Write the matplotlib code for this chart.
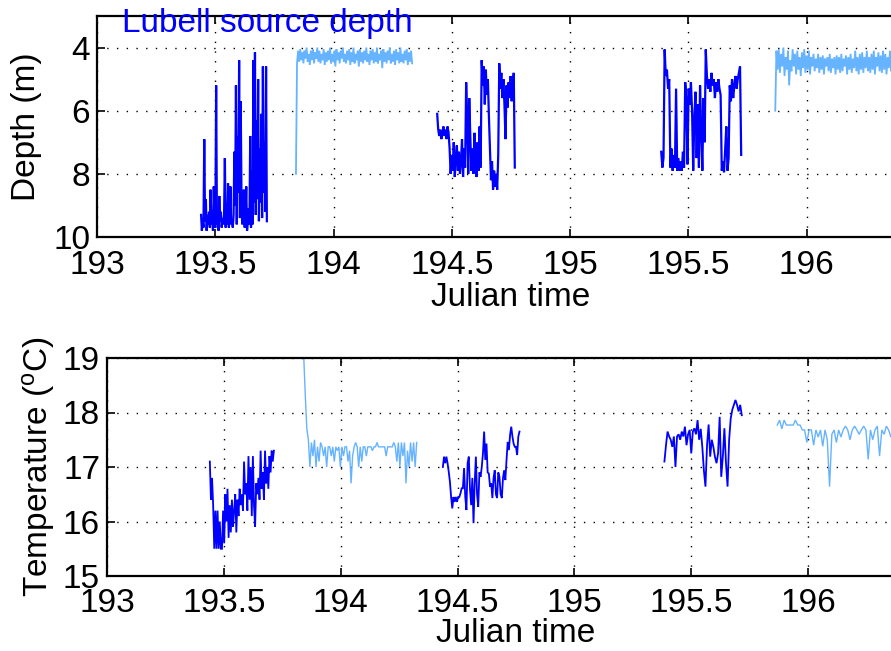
import numpy as np
import matplotlib
matplotlib.use("Agg")
import matplotlib.pyplot as plt
from matplotlib.ticker import FormatStrFormatter

plt.rcParams['font.family'] = ['Liberation Sans', 'DejaVu Sans']
plt.rcParams['mathtext.fontset'] = 'custom'
plt.rcParams['mathtext.rm'] = 'Liberation Sans'
plt.rcParams['mathtext.it'] = 'Liberation Sans:italic'

DARK = '#0000ff'
LIGHT = '#66b3ff'

# ---------------- depth data (m) ----------------
depth1_span = (193.44, 193.718)
depth1 = [9.3, 9.8, 9.4, 9.7, 6.9, 9.5, 8.8, 9.8, 9.3, 9.6, 9.2, 9.7, 8.5, 9.6, 9.4, 9.8, 8.4, 9.5, 9.7, 5.2,
          9.6, 9.1, 9.8, 8.7, 9.5, 9.2, 9.7, 9.4, 9.6, 9.3, 7.5, 9.7, 9.2, 9.6, 8.3, 9.7, 9.4, 8.4, 9.6, 9.5,
          9.7, 9.3, 7.3, 9.0, 5.2, 9.6, 6.8, 8.6, 4.4, 9.4, 5.7, 8.8, 9.6, 9.2, 8.5, 9.7, 9.3, 8.4, 9.8, 9.5,
          9.1, 9.6, 6.8, 9.7, 7.9, 9.6, 4.4, 8.9, 4.15, 9.3, 6.3, 8.8, 5.0, 9.5, 7.2, 8.9, 6.1, 9.4, 4.6, 8.6,
          7.0, 9.2, 4.6, 9.5]

depth2_span = (193.841, 194.332)
depth2 = [8.0, 4.5, 4.1, 4.45, 4.05, 4.4, 4.15, 4.5, 4.1, 4.35, 4.0, 4.45, 4.2, 4.55, 4.1, 4.4, 4.05, 4.5, 4.15, 4.35,
          4.0, 4.45, 4.1, 4.5, 4.2, 4.4, 4.05, 4.55, 4.15, 4.45, 4.1, 4.4, 4.0, 4.5, 4.2, 4.45, 4.1, 4.6, 4.05, 4.4,
          4.15, 4.5, 4.1, 4.35, 4.0, 4.45, 4.2, 4.5, 4.1, 4.4, 4.05, 4.55, 4.15, 4.45, 4.0, 4.5, 4.2, 4.4, 4.1, 4.6,
          4.05, 4.45, 4.15, 4.5, 4.1, 4.4, 4.0, 4.45, 4.2, 4.55, 4.1, 4.4, 4.05, 4.5, 4.15, 4.45, 4.0, 4.5, 4.2, 4.4,
          4.1, 4.65, 4.05, 4.45, 4.15, 4.5, 4.1, 4.4, 4.0, 4.5, 4.2, 4.45, 4.1, 4.55, 4.05, 4.4, 4.15, 4.5, 4.0, 4.45,
          4.2, 4.5, 4.1, 4.4, 4.05, 4.55, 4.15, 4.45, 4.1, 4.5]

depth3_span = (194.438, 194.766)
depth3 = [6.1, 6.6, 6.8, 6.6, 6.9, 6.7, 6.5, 6.8, 6.6, 6.9, 6.5, 6.7,
          7.2, 8.0, 7.4, 7.9, 7.0, 8.1, 7.5, 7.1, 7.9, 7.3, 8.0, 7.6, 6.9, 8.1, 7.2, 7.8,
          5.1, 6.2, 8.0, 5.6, 6.8,
          7.9, 7.2, 8.0, 6.7, 7.6, 8.1, 7.0, 7.9, 6.5, 7.8,
          4.4, 5.2, 4.6, 5.8, 4.7, 5.5, 5.0, 6.2,
          7.2, 8.2, 7.6, 8.5, 7.9, 8.4, 8.0, 8.5, 7.4,
          4.5, 5.3, 4.8, 5.6, 5.0, 5.8, 6.9, 5.2, 5.9, 5.1, 5.6, 4.9, 5.7, 5.2, 4.8, 7.8]

depth4_span = (195.385, 195.723)
depth4 = [7.3, 7.8, 7.5, 4.06, 4.9, 4.7, 5.3, 5.0, 7.8, 7.2, 7.9, 7.4, 7.8, 5.3,
          7.9, 7.5, 7.9, 7.6, 7.9, 7.3, 7.8, 5.1, 5.6, 7.7, 5.3, 5.8, 5.1, 6.0,
          7.9, 6.2, 5.4, 7.5, 5.8, 7.8, 5.2, 6.6, 7.9, 5.6, 7.0, 4.06,
          4.9, 5.3, 5.0, 5.4, 4.8, 5.2, 5.0, 5.6, 5.1, 5.4, 5.0, 5.3, 5.5,
          7.9, 7.6, 7.95, 7.2, 6.5, 7.9, 7.5, 5.2,
          5.7, 5.0, 5.6, 5.2, 4.9, 5.3, 5.0, 4.8, 4.6, 7.4]

depth5_span = (195.867, 196.45)
depth5 = [6.0, 4.1, 4.7, 4.05, 4.8, 4.2, 4.6, 4.0, 4.9, 4.3, 4.7, 4.1, 5.2, 4.4, 4.75, 4.05, 4.6, 4.2, 4.85, 4.1,
          4.7, 4.3, 4.9, 4.15, 4.65, 4.05, 4.8, 4.25, 4.7, 4.1, 4.85, 4.3, 4.6, 4.2, 4.75, 4.35, 4.65, 4.2, 4.8, 4.3,
          4.7, 4.25, 4.85, 4.35, 4.6, 4.3, 4.75, 4.2, 4.8, 4.35, 4.65, 4.3, 4.85, 4.25, 4.7, 4.3, 4.8, 4.2, 4.75, 4.35,
          4.6, 4.25, 4.85, 4.3, 4.7, 4.2, 4.8, 4.35, 4.65, 4.1, 4.75, 4.3, 4.85, 4.2, 4.7, 4.15, 4.8, 4.3, 4.65, 4.1,
          4.75, 4.3, 4.8, 4.2, 4.7, 4.1, 4.85, 4.3, 4.6, 4.15, 4.75, 4.25, 4.8, 4.1, 4.7, 4.2, 4.85, 4.3, 4.65, 4.1,
          4.75, 4.2, 4.8, 4.1, 4.7, 4.25, 4.85, 4.15, 4.65, 4.1, 4.75, 4.3, 4.8, 4.1, 4.7, 4.2, 4.75, 4.15, 4.6, 4.1]

# ---------------- temperature data (deg C) ----------------
temp1_span = (193.44, 193.714)
temp1 = [17.1, 16.4, 16.8, 16.3, 15.5, 16.2, 15.5, 16.2, 15.5, 16.0, 15.5, 15.5, 16.2, 15.6, 16.5, 16.0, 16.6, 15.7,
         16.3, 15.8, 16.4, 15.9, 16.2, 16.5, 15.8, 16.4, 16.1, 16.6, 16.3, 16.5, 16.2, 17.1, 16.5, 16.7, 16.2, 17.2,
         16.4, 17.0, 16.1, 17.2, 16.3, 15.9, 16.7, 16.5, 16.8, 16.4, 17.3, 16.6, 16.9, 16.4, 17.3, 16.7, 17.0, 16.6,
         17.2, 16.9, 17.3, 17.1, 17.3]

temp2_span = (193.842, 194.325)
temp2 = [19.0, 18.3, 17.7, 17.5, 17.0, 17.45, 17.2, 17.5, 17.0, 17.37, 17.1, 17.45, 17.37, 17.2, 17.37, 17.0,
         17.37, 17.37, 17.2, 17.37, 17.1, 17.37, 17.3, 17.37, 17.0, 17.37, 17.2, 17.37, 17.37, 17.1, 17.3, 16.7,
         17.2, 17.37, 17.45, 17.37, 17.0, 17.37, 17.1, 17.37, 17.37, 17.2, 17.37, 17.37, 17.37, 17.3, 17.37,
         17.37, 17.45, 17.37, 17.37, 17.37, 17.37, 17.37, 17.2, 17.37, 17.37, 17.37, 17.37, 17.45, 17.37, 17.1,
         17.45, 17.0, 17.45, 17.2, 17.45, 16.7, 17.3, 17.0, 17.45, 17.1, 17.45, 17.0, 17.45]

temp3_span = (194.437, 194.765)
temp3 = [17.0, 17.19, 17.07, 17.19, 17.07, 16.91, 16.73, 16.45, 16.24, 16.45, 16.36, 16.45, 16.36, 16.45, 16.45,
         16.52, 16.61, 16.61, 16.98, 16.45, 16.21, 17.07, 17.19, 16.6, 16.30, 16.8, 15.97, 16.7, 17.19, 16.5,
         16.27, 16.9, 16.82, 17.0, 17.25, 17.65, 17.13, 17.43, 16.9, 16.88, 16.64, 16.7, 16.43, 16.8, 16.94, 16.5,
         16.43, 16.9, 16.82, 16.5, 16.43, 16.8, 16.94, 16.76, 17.13, 17.46, 17.31, 17.59, 17.74, 17.56, 17.43,
         17.37, 17.37, 17.22, 17.56, 17.65]

temp4_span = (195.385, 195.716)
temp4 = [17.10, 17.4, 17.65, 17.56, 17.5, 17.37, 17.56, 17.0, 17.56, 17.6, 17.5, 17.65, 17.56, 17.74, 17.4, 17.6,
         17.68, 17.25, 17.65, 17.71, 17.6, 17.86, 17.5, 17.7, 17.37, 16.94, 16.64, 17.4, 17.78, 17.19, 17.5, 17.37,
         17.19, 17.07, 17.25, 17.92, 16.82, 17.19, 17.71, 17.07, 16.64, 17.5, 17.89, 18.05, 18.14, 18.23, 18.14,
         18.02, 18.14, 17.95]

temp5_span = (195.868, 196.5)
temp5 = [17.77, 17.86, 17.7, 17.86, 17.77, 17.77, 17.77, 17.77, 17.86, 17.77, 17.77, 17.68, 17.68, 17.45, 17.68,
         17.68, 17.4, 17.68, 17.55, 17.68, 17.38, 17.68, 17.5, 16.64, 17.6, 17.68, 17.45, 17.68, 17.55, 17.68,
         17.75, 17.68, 17.5, 17.68, 17.75, 17.68, 17.6, 17.68, 17.75, 17.68, 17.14, 17.68, 17.5, 17.68, 17.75,
         17.2, 17.68, 17.6, 17.75, 17.68, 17.55, 17.68, 17.75, 17.68, 17.6, 17.68, 17.68, 17.75, 17.68, 17.6,
         17.68, 17.68, 17.75, 17.68, 17.6, 17.68]

xticks = [193, 193.5, 194, 194.5, 195, 195.5, 196]
depth_ticks = [4, 6, 8, 10]
temp_ticks = [15, 16, 17, 18, 19]

W, H = 891, 651
fig = plt.figure(figsize=(W / 100, H / 100), dpi=100)
ax1 = fig.add_axes([97 / W, (H - 237) / H, 828 / W, 221 / H])
ax2 = fig.add_axes([107 / W, (H - 576) / H, 818 / W, 218 / H])

FS = 24


def seg(ax, span, vals, color, lw):
    t = np.linspace(span[0], span[1], len(vals))
    ax.plot(t, vals, color=color, lw=lw, solid_joinstyle='miter')


for span, vals, c in [(depth1_span, depth1, DARK), (depth2_span, depth2, LIGHT),
                      (depth3_span, depth3, DARK), (depth4_span, depth4, DARK),
                      (depth5_span, depth5, LIGHT)]:
    seg(ax1, span, vals, c, 1.6 if c == DARK else 1.3)

for span, vals, c in [(temp1_span, temp1, DARK), (temp2_span, temp2, LIGHT),
                      (temp3_span, temp3, DARK), (temp4_span, temp4, DARK),
                      (temp5_span, temp5, LIGHT)]:
    seg(ax2, span, vals, c, 1.3 if c == DARK else 1.0)

for ax in (ax1, ax2):
    ax.set_xlim(193, 196.5)
    ax.set_xticks(xticks)
    ax.xaxis.set_major_formatter(FormatStrFormatter('%g'))
    ax.tick_params(direction='in', length=6, width=1.2, top=True, right=True,
                   labelsize=FS)
    ax.tick_params(axis='x', pad=9)
    ax.tick_params(axis='y', pad=5)
    ax.grid(True, color='k', linestyle=(0, (1, 6)), linewidth=1.0)
    for s in ax.spines.values():
        s.set_linewidth(1.6)

ax1.set_xlabel('Julian time', fontsize=FS, labelpad=1)
ax2.set_xlabel('Julian time', fontsize=FS, labelpad=-1)

ax1.set_ylim(10, 3)
ax1.set_yticks(depth_ticks)
ax1.set_ylabel('Depth (m)', fontsize=FS, labelpad=8)
ax1.text(193.105, 3.52, 'Lubell source depth', color=DARK, fontsize=FS, va='baseline', ha='left')

ax2.set_ylim(15, 19)
ax2.set_yticks(temp_ticks)
ax2.set_ylabel(r'Temperature ($^{\rm o}$C)', fontsize=FS, labelpad=4)

fig.savefig('out.png', dpi=100)
